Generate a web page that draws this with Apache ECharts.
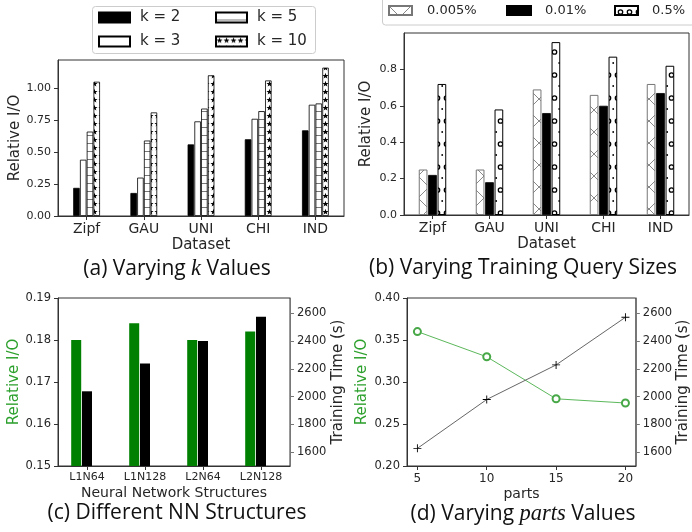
<!DOCTYPE html>
<html><head><meta charset="utf-8">
<script src="https://cdn.jsdelivr.net/npm/echarts@6/dist/echarts.min.js"></script>
<style>html,body{margin:0;padding:0;background:#fff}#c{width:692px;height:532px}</style>
</head><body><div id="c"></div>
<script>
// ---- data ----
const datasets = ['Zipf', 'GAU', 'UNI', 'CHI', 'IND'];
const kNames = ['k = 2', 'k = 3', 'k = 5', 'k = 10'];
const k2 = [0.22, 0.18, 0.56, 0.60, 0.67];
const k3 = [0.44, 0.30, 0.74, 0.76, 0.87];
const k5 = [0.66, 0.59, 0.84, 0.82, 0.88];
const k10 = [1.05, 0.81, 1.10, 1.06, 1.16];
const aTicks = [0, 0.25, 0.5, 0.75, 1.0];

const qNames = ['0.005%', '0.01%', '0.5%'];
const q005 = [0.25, 0.25, 0.69, 0.66, 0.72];
const q01 = [0.22, 0.18, 0.56, 0.60, 0.67];
const q5 = [0.72, 0.58, 0.95, 0.87, 0.82];
const bTicks = [0, 0.2, 0.4, 0.6, 0.8];

const nnNames = ['L1N64', 'L1N128', 'L2N64', 'L2N128'];
const nnIO = [0.180, 0.184, 0.180, 0.182];
const nnTime = [2038, 2239, 2400, 2575];
const cTicks = [0.15, 0.16, 0.17, 0.18, 0.19];
const timeTicks = [1600, 1800, 2000, 2200, 2400, 2600];

const parts = [5, 10, 15, 20];
const partsIO = [0.36, 0.33, 0.28, 0.275];
const partsTime = [1627, 1979, 2228, 2571];
const dTicks = [0.20, 0.25, 0.30, 0.35, 0.40];

// ---- patterns ----
function pat(w, h, draw) {
  const c = document.createElement('canvas');
  c.width = w; c.height = h;
  const g = c.getContext('2d');
  g.fillStyle = '#fff'; g.fillRect(0, 0, w, h);
  draw(g);
  return { image: c, repeat: 'repeat' };
}
const hLines = pat(8, 8, g => { g.strokeStyle = '#777'; g.lineWidth = 1; g.beginPath(); g.moveTo(0, 7.5); g.lineTo(8, 7.5); g.stroke(); });
const stars = pat(7, 8, g => {
  g.fillStyle = '#000'; g.beginPath();
  const cx = 3.5, cy = 4;
  for (let i = 0; i < 10; i++) {
    const r = i % 2 ? 1.3 : 3.2, a = -Math.PI / 2 + i * Math.PI / 5;
    const x = cx + r * Math.cos(a), y = cy + r * Math.sin(a);
    i ? g.lineTo(x, y) : g.moveTo(x, y);
  }
  g.closePath(); g.fill();
});
const xHatch = pat(22, 22, g => { g.strokeStyle = '#888'; g.lineWidth = 1; g.beginPath(); g.moveTo(0, 0); g.lineTo(22, 22); g.moveTo(0, 22); g.lineTo(22, 0); g.stroke(); });
const circles = pat(9, 23, g => {
  g.strokeStyle = '#000'; g.lineWidth = 1.3; g.beginPath(); g.arc(5.5, 6, 2.2, 0, Math.PI * 2); g.stroke();
  g.fillStyle = '#000'; g.beginPath(); g.arc(1.2, 17, 0.9, 0, Math.PI * 2); g.fill();
});

const FONT = 'DejaVu Sans';
const TXT = '#262626';
const AX = '#333';
function axisBase(extra) {
  return Object.assign({
    axisLine: { show: true, lineStyle: { color: AX, width: 1 } },
    axisTick: { show: true, length: 4, lineStyle: { color: AX } },
    splitLine: { show: false },
    axisLabel: { color: TXT, fontFamily: FONT, fontSize: 11, margin: 7 },
    nameTextStyle: { color: TXT, fontFamily: FONT, fontSize: 15 },
    nameLocation: 'middle'
  }, extra);
}
function merge(a, b) { for (const k in b) { if (b[k] && typeof b[k] === 'object' && !Array.isArray(b[k]) && a[k] && typeof a[k] === 'object') merge(a[k], b[k]); else a[k] = b[k]; } return a; }
function ax(extra) { return merge(axisBase({}), extra); }

const gridBase = { show: true, borderColor: AX, borderWidth: 1, backgroundColor: 'transparent', containLabel: false };
const GREEN = '#008000';
const LGREEN = '#2ca02c';
const plain = v => String(v);

function legendItem(name, left, top, w, h, fs, pad) {
  return { orient: 'horizontal', left: left, top: top, padding: 0, itemWidth: w, itemHeight: h, icon: 'rect', data: [name],
    textStyle: { fontFamily: FONT, fontSize: fs, color: TXT, padding: [0, 0, 0, pad] }, selectedMode: false };
}

const option = {
  animation: false,
  backgroundColor: '#fff',
  grid: [
    Object.assign({ left: 58, top: 60, width: 286, height: 156 }, gridBase),
    Object.assign({ left: 404, top: 33, width: 285, height: 182 }, gridBase),
    Object.assign({ left: 58, top: 298, width: 232, height: 168 }, gridBase),
    Object.assign({ left: 407, top: 298, width: 233, height: 168 }, gridBase)
  ],
  xAxis: [
    ax({ gridIndex: 0, type: 'category', data: datasets, name: 'Dataset', nameGap: 22, axisTick: { alignWithLabel: true }, axisLabel: { fontSize: 14, margin: 6 } }),
    ax({ gridIndex: 1, type: 'category', data: datasets, name: 'Dataset', nameGap: 22, axisTick: { alignWithLabel: true }, axisLabel: { fontSize: 14, margin: 6 } }),
    ax({ gridIndex: 2, type: 'category', data: nnNames, name: 'Neural Network Structures', nameGap: 20, nameTextStyle: { fontSize: 14 }, axisTick: { alignWithLabel: true }, axisLabel: { fontSize: 11, margin: 6 } }),
    ax({ gridIndex: 3, type: 'value', min: 4.25, max: 20.75, name: 'parts', nameGap: 21, nameTextStyle: { fontSize: 14 },
      axisTick: { customValues: parts }, axisLabel: { customValues: parts, fontSize: 12, margin: 7 } })
  ],
  yAxis: [
    ax({ gridIndex: 0, type: 'value', min: 0, max: 1.22, name: 'Relative I/O', nameGap: 35,
      axisTick: { customValues: aTicks }, axisLabel: { customValues: aTicks, formatter: v => v.toFixed(2) } }),
    ax({ gridIndex: 1, type: 'value', min: 0, max: 1.0, name: 'Relative I/O', nameGap: 30,
      axisTick: { customValues: bTicks }, axisLabel: { customValues: bTicks, formatter: v => v.toFixed(1) } }),
    ax({ gridIndex: 2, type: 'value', min: 0.15, max: 0.19, name: 'Relative I/O', nameGap: 35, nameTextStyle: { color: LGREEN },
      axisTick: { customValues: cTicks }, axisLabel: { customValues: cTicks, formatter: v => v.toFixed(2), fontSize: 11.5 } }),
    ax({ gridIndex: 2, type: 'value', position: 'right', min: 1500, max: 2710, name: 'Training Time (s)', nameGap: 34,
      axisLine: { lineStyle: { color: '#777' } },
      axisTick: { customValues: timeTicks, lineStyle: { color: '#777' } }, axisLabel: { customValues: timeTicks, fontSize: 11.5, formatter: plain } }),
    ax({ gridIndex: 3, type: 'value', min: 0.20, max: 0.40, name: 'Relative I/O', nameGap: 37, nameTextStyle: { color: LGREEN },
      axisTick: { customValues: dTicks }, axisLabel: { customValues: dTicks, formatter: v => v.toFixed(2), fontSize: 11.5 } }),
    ax({ gridIndex: 3, type: 'value', position: 'right', min: 1500, max: 2710, name: 'Training Time (s)', nameGap: 37,
      axisLine: { lineStyle: { color: '#777' } },
      axisTick: { customValues: timeTicks, lineStyle: { color: '#777' } }, axisLabel: { customValues: timeTicks, fontSize: 11.5, formatter: plain } })
  ],
  legend: [
    legendItem('k = 2', 98, 10, 31, 10, 15, 5),
    legendItem('k = 3', 98, 34, 31, 10, 15, 5),
    legendItem('k = 5', 215, 10, 31, 10, 15, 5),
    legendItem('k = 10', 215, 34, 31, 10, 15, 5),
    legendItem('0.005%', 388, 4, 23, 9, 13, 10),
    legendItem('0.01%', 506, 4, 24, 9, 13, 9),
    legendItem('0.5%', 614, 4, 23, 9, 13, 9)
  ],
  title: [
    { text: '(a) Varying {i|k} Values', left: 177, top: 258, textAlign: 'center' },
    { text: '(b) Varying Training Query Sizes', left: 523, top: 258, textAlign: 'center' },
    { text: '(c) Different NN Structures', left: 177, top: 503, textAlign: 'center' },
    { text: '(d) Varying {i|parts} Values', left: 523, top: 503, textAlign: 'center' }
  ].map(t => Object.assign(t, { padding: 0, textStyle: { fontFamily: 'Open Sans', fontSize: 21, fontWeight: 'normal', color: '#111',
      rich: { i: { fontFamily: 'Liberation Serif', fontStyle: 'italic', fontSize: 22.5, color: '#111' } } } })),
  graphic: [
    { type: 'rect', shape: { x: 92.5, y: 6.5, width: 223, height: 47, r: 3 }, style: { fill: 'none', stroke: '#ccc', lineWidth: 1 } },
    { type: 'rect', shape: { x: 382.5, y: -4, width: 330, height: 29, r: 3 }, style: { fill: 'none', stroke: '#ccc', lineWidth: 1 } }
  ],
  series: [
    { name: 'k = 2', type: 'bar', xAxisIndex: 0, yAxisIndex: 0, data: k2, barWidth: 6.5, barGap: '4%', itemStyle: { color: '#000', borderColor: '#000', borderWidth: 0.8 } },
    { name: 'k = 3', type: 'bar', xAxisIndex: 0, yAxisIndex: 0, data: k3, barWidth: 6.5, barGap: '4%', itemStyle: { color: '#fff', borderColor: '#000', borderWidth: 0.8 } },
    { name: 'k = 5', type: 'bar', xAxisIndex: 0, yAxisIndex: 0, data: k5, barWidth: 6.5, barGap: '4%', itemStyle: { color: hLines, borderColor: '#000', borderWidth: 0.8 } },
    { name: 'k = 10', type: 'bar', xAxisIndex: 0, yAxisIndex: 0, data: k10, barWidth: 6.5, barGap: '4%', itemStyle: { color: stars, borderColor: '#000', borderWidth: 0.8 } },

    { name: '0.005%', type: 'bar', xAxisIndex: 1, yAxisIndex: 1, data: q005, barWidth: 8.7, barGap: '8%', itemStyle: { color: xHatch, borderColor: '#777', borderWidth: 1 } },
    { name: '0.01%', type: 'bar', xAxisIndex: 1, yAxisIndex: 1, data: q01, barWidth: 8.7, barGap: '8%', itemStyle: { color: '#000', borderColor: '#000', borderWidth: 0.8 } },
    { name: '0.5%', type: 'bar', xAxisIndex: 1, yAxisIndex: 1, data: q5, barWidth: 8.7, barGap: '8%', itemStyle: { color: circles, borderColor: '#000', borderWidth: 1 } },

    { name: 'IO-nn', type: 'bar', xAxisIndex: 2, yAxisIndex: 2, data: nnIO, barWidth: 10, barGap: '8%', itemStyle: { color: GREEN } },
    { name: 'Time-nn', type: 'bar', xAxisIndex: 2, yAxisIndex: 3, data: nnTime, barWidth: 10, barGap: '8%', itemStyle: { color: '#000' } },
    { name: 'slot', type: 'bar', xAxisIndex: 2, yAxisIndex: 3, data: [], barWidth: 10, barGap: '8%' },

    { name: 'IO-parts', type: 'line', xAxisIndex: 3, yAxisIndex: 4, data: parts.map((p, i) => [p, partsIO[i]]),
      symbol: 'emptyCircle', symbolSize: 7, lineStyle: { color: '#5cb85c', width: 1 }, itemStyle: { color: '#48a848', borderColor: '#48a848', borderWidth: 1.3 } },
    { name: 'Time-parts', type: 'line', xAxisIndex: 3, yAxisIndex: 5, data: parts.map((p, i) => [p, partsTime[i]]),
      symbol: 'path://M4,0h1v9h-1z M0,4h9v1h-9z', symbolSize: 8, lineStyle: { color: '#666', width: 1 }, itemStyle: { color: '#000', borderWidth: 0 } }
  ]
};
const chart = echarts.init(document.getElementById('c'), null, { renderer: 'canvas' });
chart.setOption(option);
</script></body></html>
